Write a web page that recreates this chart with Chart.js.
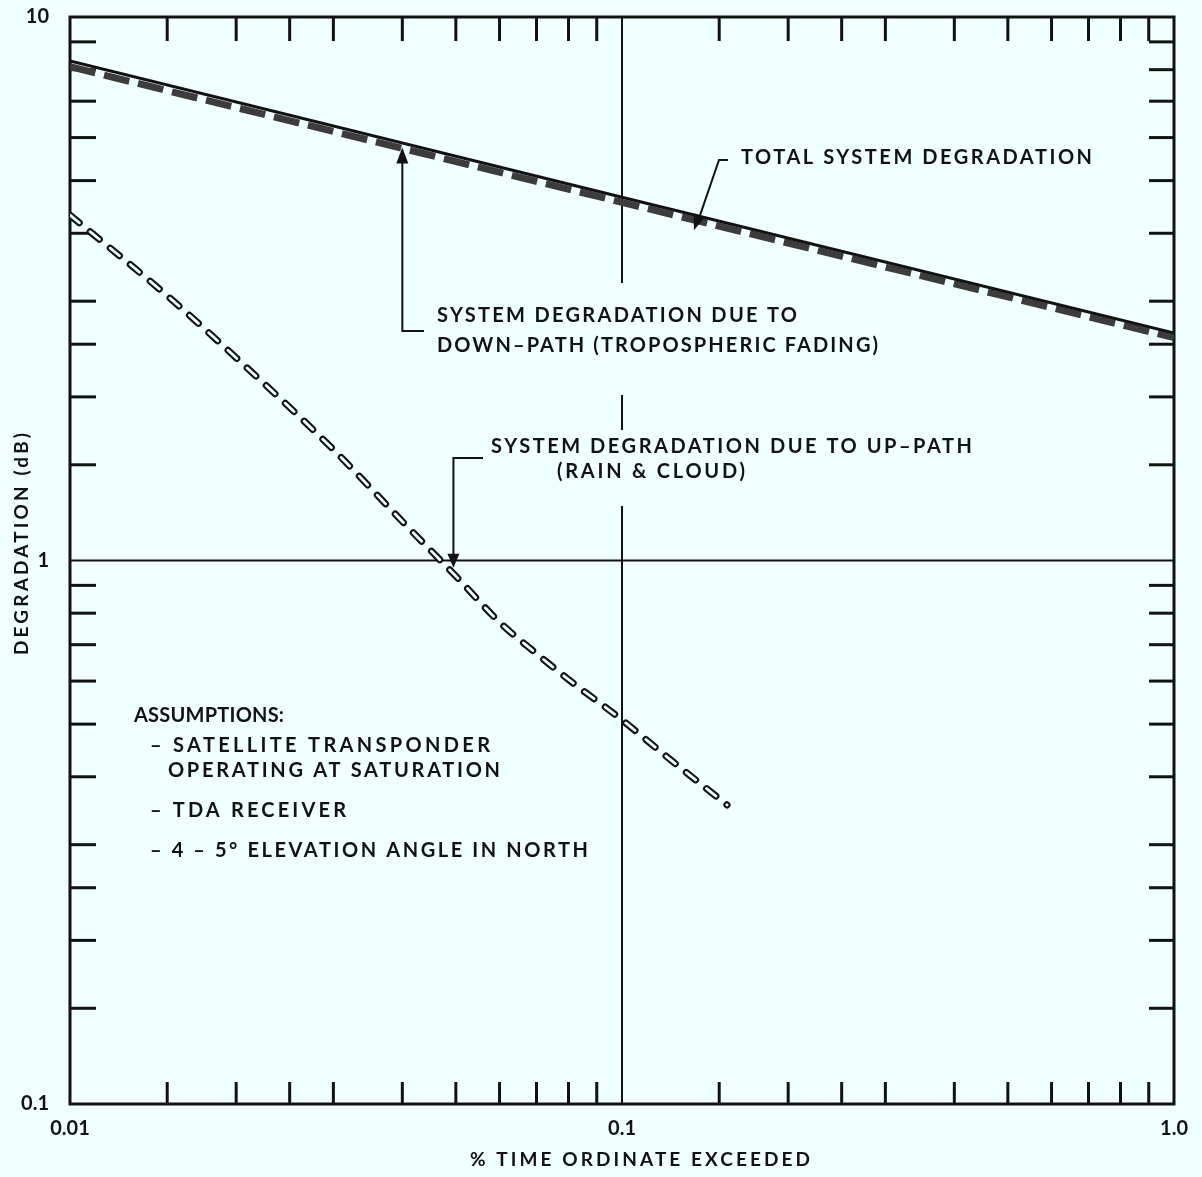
<!DOCTYPE html>
<html>
<head>
<meta charset="utf-8">
<script src="https://cdn.jsdelivr.net/npm/chart.js@4.4.1/dist/chart.umd.min.js"></script>
<style>
  html, body { margin: 0; padding: 0; background: #F0FFFF; }
  #wrap { width: 1202px; height: 1177px; position: relative; }
  canvas { display: block; }
</style>
</head>
<body>
<div id="wrap"><canvas id="c" width="1202" height="1177" style="width:1202px;height:1177px"></canvas></div>
<script>
// Percent of time the ordinate is exceeded (x) versus degradation in dB (y)
const pctTimeStraight = [0.01, 0.1, 1.0];
const totalDegradation = [8.3, 4.66, 2.62];
const downPathDegradation = [8.1, 4.56, 2.57];

const pctTimeUpPath = [0.01, 0.015, 0.02, 0.03, 0.04, 0.05, 0.06, 0.07, 0.08, 0.1, 0.12, 0.155];
const upPathDegradation = [4.32, 3.07, 2.36, 1.60, 1.18, 0.936, 0.77, 0.674, 0.604, 0.509, 0.437, 0.355];

// Axis ticks
const xMajorTicks = [0.01, 0.1, 1.0];
const xMajorLabels = ['0.01', '0.1', '1.0'];
const yMajorTicks = [0.1, 1, 10];
const yMajorLabels = ['0.1', '1', '10'];
const minorMantissas = [1.5, 2, 2.5, 3, 4, 5, 6, 7, 8, 9];

const BG = '#F0FFFF';
const INK = '#121212';
const FONT = 'Lato, "Liberation Sans", sans-serif';

function pairs(xs, ys) { return xs.map((x, i) => ({ x: x, y: ys[i] })); }

function minorValues(majors) {
  const out = [];
  for (let i = 0; i < majors.length - 1; i++) {
    minorMantissas.forEach(m => out.push(majors[i] * m));
  }
  return out;
}

function labelFor(value, majors, labels) {
  for (let i = 0; i < majors.length; i++) {
    if (Math.abs(value - majors[i]) / majors[i] < 1e-6) return labels[i];
  }
  return '';
}

function arrowHead(ctx, tipX, tipY, fromX, fromY, len, half) {
  const a = Math.atan2(tipY - fromY, tipX - fromX);
  const c = Math.cos(a), s = Math.sin(a);
  ctx.beginPath();
  ctx.moveTo(tipX, tipY);
  ctx.lineTo(tipX - len * c + half * s, tipY - len * s - half * c);
  ctx.lineTo(tipX - len * c - half * s, tipY - len * s + half * c);
  ctx.closePath();
  ctx.fill();
}

// Wide-tracked lettering: the tracking is chosen so the line spans `span` pixels
function label(ctx, text, x, y, size, span, align) {
  ctx.font = 'bold ' + size + 'px ' + FONT;
  ctx.letterSpacing = '0px';
  const natural = ctx.measureText(text).width;
  const n = Array.from(text).length;
  const track = Math.max(0, (span - natural) / Math.max(1, n - 1));
  ctx.letterSpacing = track + 'px';
  ctx.textBaseline = 'middle';
  ctx.textAlign = 'left';
  const startX = align === 'center' ? x - span / 2 : x;
  ctx.fillText(text, startX, y);
}

// Frame, inward tick marks and the two reference grid lines
const framePlugin = {
  id: 'frame',
  beforeDatasetsDraw(chart) {
    const ctx = chart.ctx;
    const a = chart.chartArea;
    const xs = chart.scales.x, ys = chart.scales.y;
    ctx.save();
    ctx.strokeStyle = INK;
    ctx.lineCap = 'butt';

    // grid line at 1 dB
    ctx.lineWidth = 2;
    const y1 = ys.getPixelForValue(1);
    ctx.beginPath(); ctx.moveTo(a.left, y1); ctx.lineTo(a.right, y1); ctx.stroke();

    // grid line at 0.1 %, broken where the annotations sit
    const x01 = xs.getPixelForValue(0.1);
    const segs = [[a.top, 283], [395, 430], [506, a.bottom]];
    segs.forEach(s => { ctx.beginPath(); ctx.moveTo(x01, s[0]); ctx.lineTo(x01, s[1]); ctx.stroke(); });

    // inward ticks
    ctx.lineWidth = 3;
    minorValues(xMajorTicks).forEach(v => {
      const px = xs.getPixelForValue(v);
      ctx.beginPath(); ctx.moveTo(px, a.top); ctx.lineTo(px, a.top + 24); ctx.stroke();
      ctx.beginPath(); ctx.moveTo(px, a.bottom); ctx.lineTo(px, a.bottom - 22); ctx.stroke();
    });
    minorValues(yMajorTicks).forEach(v => {
      const py = ys.getPixelForValue(v);
      ctx.beginPath(); ctx.moveTo(a.left, py); ctx.lineTo(a.left + 26, py); ctx.stroke();
      ctx.beginPath(); ctx.moveTo(a.right, py); ctx.lineTo(a.right - 25, py); ctx.stroke();
    });

    // plot frame
    ctx.lineWidth = 3;
    ctx.strokeRect(a.left, a.top, a.right - a.left, a.bottom - a.top);
    ctx.restore();
  },
  afterDraw(chart) {
    const ctx = chart.ctx;
    const xs = chart.scales.x, ys = chart.scales.y;
    ctx.save();
    ctx.fillStyle = INK;
    ctx.strokeStyle = INK;
    ctx.lineWidth = 2;

    // Total system degradation callout
    const tTipX = xs.getPixelForValue(0.135);
    const tTipY = ys.getPixelForValue(4.05);
    ctx.beginPath(); ctx.moveTo(728, 160); ctx.lineTo(719, 160); ctx.lineTo(tTipX + 4, tTipY - 9); ctx.stroke();
    arrowHead(ctx, tTipX, tTipY, 719, 160, 16, 6);
    label(ctx, 'TOTAL SYSTEM DEGRADATION', 741, 158, 20, 351);

    // Down-path callout
    const dTipX = xs.getPixelForValue(0.04);
    const dTipY = ys.getPixelForValue(5.75);
    ctx.beginPath(); ctx.moveTo(424, 331); ctx.lineTo(dTipX, 331); ctx.lineTo(dTipX, dTipY + 10); ctx.stroke();
    arrowHead(ctx, dTipX, dTipY, dTipX, 331, 16, 6);
    label(ctx, 'SYSTEM DEGRADATION DUE TO', 437, 316, 20, 360);
    label(ctx, 'DOWN\u2013PATH (TROPOSPHERIC FADING)', 437, 346, 20, 441);

    // Up-path callout
    const uTipX = xs.getPixelForValue(0.0495);
    const uTipY = ys.getPixelForValue(0.97);
    ctx.beginPath(); ctx.moveTo(483, 458); ctx.lineTo(uTipX, 458); ctx.lineTo(uTipX, uTipY - 10); ctx.stroke();
    arrowHead(ctx, uTipX, uTipY, uTipX, 458, 14, 6);
    label(ctx, 'SYSTEM DEGRADATION DUE TO UP\u2013PATH', 491, 447, 20, 481);
    label(ctx, '(RAIN & CLOUD)', 557, 472, 20, 188);

    // Assumptions block
    label(ctx, 'ASSUMPTIONS:', 134, 716, 20, 150);
    label(ctx, '\u2013 SATELLITE TRANSPONDER', 150, 746, 20, 340);
    label(ctx, 'OPERATING AT SATURATION', 168, 771, 20, 332);
    label(ctx, '\u2013 TDA RECEIVER', 150, 811, 20, 196);
    label(ctx, '\u2013 4 \u2013 5\u00B0 ELEVATION ANGLE IN NORTH', 150, 851, 20, 438);

    // Axis titles
    label(ctx, '% TIME ORDINATE EXCEEDED', 640, 1160, 19, 340, 'center');
    ctx.translate(22, 544);
    ctx.rotate(-Math.PI / 2);
    label(ctx, 'DEGRADATION (dB)', 0, 0, 19, 222, 'center');
    ctx.restore();
  }
};

const hollowDash = [12, 14];

new Chart(document.getElementById('c'), {
  type: 'line',
  data: {
    datasets: [
      {
        label: 'System degradation due to down-path',
        data: pairs(pctTimeStraight, downPathDegradation),
        borderColor: '#3c3c3c',
        borderWidth: 7,
        borderDash: [26, 9],
        pointRadius: 0,
        tension: 0,
        order: 3
      },
      {
        label: 'Total system degradation',
        data: pairs(pctTimeStraight, totalDegradation),
        borderColor: INK,
        borderWidth: 3,
        pointRadius: 0,
        tension: 0,
        order: 2
      },
      {
        label: 'System degradation due to up-path',
        data: pairs(pctTimeUpPath, upPathDegradation),
        borderColor: INK,
        borderWidth: 7,
        borderDash: hollowDash,
        borderCapStyle: 'round',
        pointRadius: 0,
        cubicInterpolationMode: 'monotone',
        order: 1
      },
      {
        label: 'up-path core',
        data: pairs(pctTimeUpPath, upPathDegradation),
        borderColor: BG,
        borderWidth: 2.8,
        borderDash: hollowDash,
        borderCapStyle: 'round',
        pointRadius: 0,
        cubicInterpolationMode: 'monotone',
        order: 0
      }
    ]
  },
  options: {
    responsive: false,
    animation: false,
    devicePixelRatio: 1,
    layout: { padding: { top: 17, right: 28, left: 0, bottom: 0 } },
    plugins: { legend: { display: false }, tooltip: { enabled: false } },
    scales: {
      x: {
        type: 'logarithmic',
        min: 0.01,
        max: 1.0,
        afterBuildTicks(scale) { scale.ticks = xMajorTicks.map(v => ({ value: v })); },
        afterFit(scale) { scale.height = 73; scale.paddingLeft = 0; scale.paddingRight = 0; },
        grid: { display: false, drawTicks: false },
        border: { display: false },
        ticks: {
          autoSkip: false,
          maxRotation: 0,
          padding: 13,
          color: INK,
          font: { family: FONT, size: 20, weight: 'bold' },
          callback: v => labelFor(v, xMajorTicks, xMajorLabels)
        }
      },
      y: {
        type: 'logarithmic',
        min: 0.1,
        max: 10,
        afterBuildTicks(scale) { scale.ticks = yMajorTicks.map(v => ({ value: v })); },
        afterFit(scale) { scale.width = 70; scale.paddingTop = 0; scale.paddingBottom = 0; },
        grid: { display: false, drawTicks: false },
        border: { display: false },
        ticks: {
          autoSkip: false,
          padding: 21,
          color: INK,
          font: { family: FONT, size: 20, weight: 'bold' },
          callback: v => labelFor(v, yMajorTicks, yMajorLabels)
        }
      }
    }
  },
  plugins: [framePlugin]
});
</script>
</body>
</html>
